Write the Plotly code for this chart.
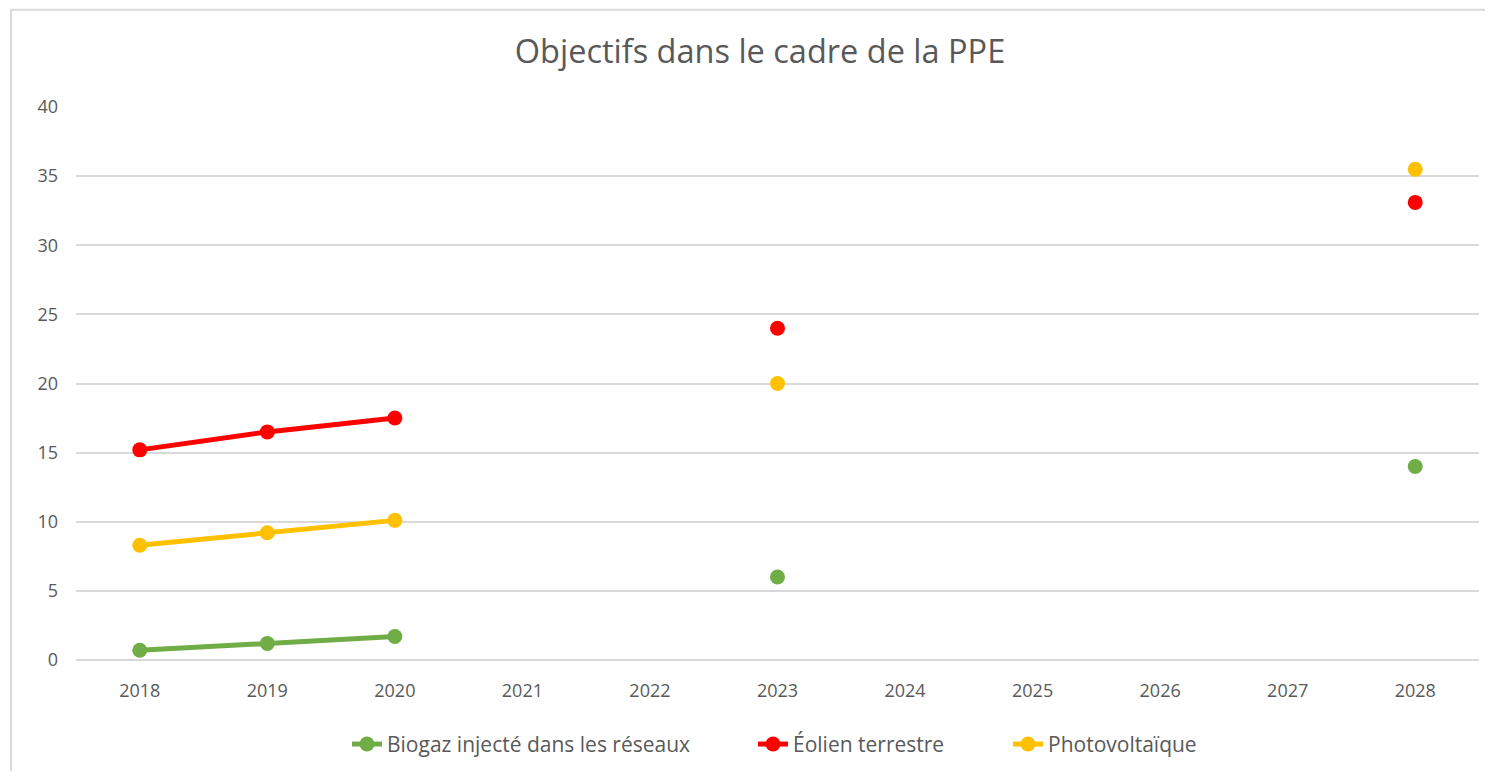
import plotly.graph_objects as go

years = ["2018", "2019", "2020", "2021", "2022", "2023", "2024", "2025", "2026", "2027", "2028"]
biogaz = [0.7, 1.2, 1.7, None, None, 6.0, None, None, None, None, 14.0]
eolien = [15.2, 16.5, 17.5, None, None, 24.0, None, None, None, None, 33.1]
photo = [8.3, 9.2, 10.1, None, None, 20.0, None, None, None, None, 35.5]

series = [
    ("Biogaz injecté dans les réseaux", biogaz, "#70AD47", "legend"),
    ("Éolien terrestre", eolien, "#FF0000", "legend2"),
    ("Photovoltaïque", photo, "#FFC000", "legend3"),
]

FONT = "Open Sans"
W, H = 1477, 763
L, R, T, B = 68, 6, 99, 107
PW, PH = W - L - R, H - T - B

fig = go.Figure()
for name, vals, color, lg in series:
    fig.add_trace(go.Scatter(
        x=years, y=vals, name=name, mode="lines+markers",
        line=dict(color=color, width=5),
        marker=dict(color=color, size=15),
        connectgaps=False, legend=lg,
    ))

def px_x(fx):
    return (fx - L) / PW

leg_y = -(741 - (H - B)) / PH
text_starts = [379, 785, 1040]  # figure px where legend text begins
legends = {}
for key, ts in zip(["legend", "legend2", "legend3"], text_starts):
    legends[key] = dict(orientation="h", x=px_x(ts - 40), xanchor="left", y=leg_y,
                        yanchor="middle", bgcolor="rgba(0,0,0,0)",
                        font=dict(family=FONT, size=21, color="#595959"))

fig.update_layout(
    width=W, height=H,
    paper_bgcolor="white", plot_bgcolor="white",
    margin=dict(l=L, r=R, t=T, b=B),
    title=dict(text="Objectifs dans le cadre de la PPE", xref="paper", x=px_x(752),
               xanchor="center", y=1 - 44 / H, yanchor="middle",
               font=dict(family=FONT, size=32.5, color="#595959")),
    font=dict(family=FONT, size=18, color="#595959"),
    showlegend=True,
    **legends,
)
fig.update_xaxes(type="category", range=[-0.5, 10.5], showgrid=False, showline=False, ticks="",
                 ticklabelstandoff=18, tickfont=dict(size=18, color="#595959"),
                 fixedrange=True)
fig.update_yaxes(range=[0, 40], dtick=5, showgrid=True, gridcolor="#D9D9D9", gridwidth=2,
                 zeroline=True, zerolinecolor="#D9D9D9", zerolinewidth=2,
                 showline=False, ticks="", ticklabelstandoff=17,
                 tickfont=dict(size=18, color="#595959"))
fig.add_shape(type="rect", xref="paper", yref="paper",
              x0=-(L - 3) / PW, x1=1 + (R + 20) / PW, y0=-(B + 20) / PH, y1=1 + (T - 1) / PH,
              line=dict(color="#D9D9D9", width=2), fillcolor="rgba(0,0,0,0)", layer="below")

fig.write_html("out.html")
